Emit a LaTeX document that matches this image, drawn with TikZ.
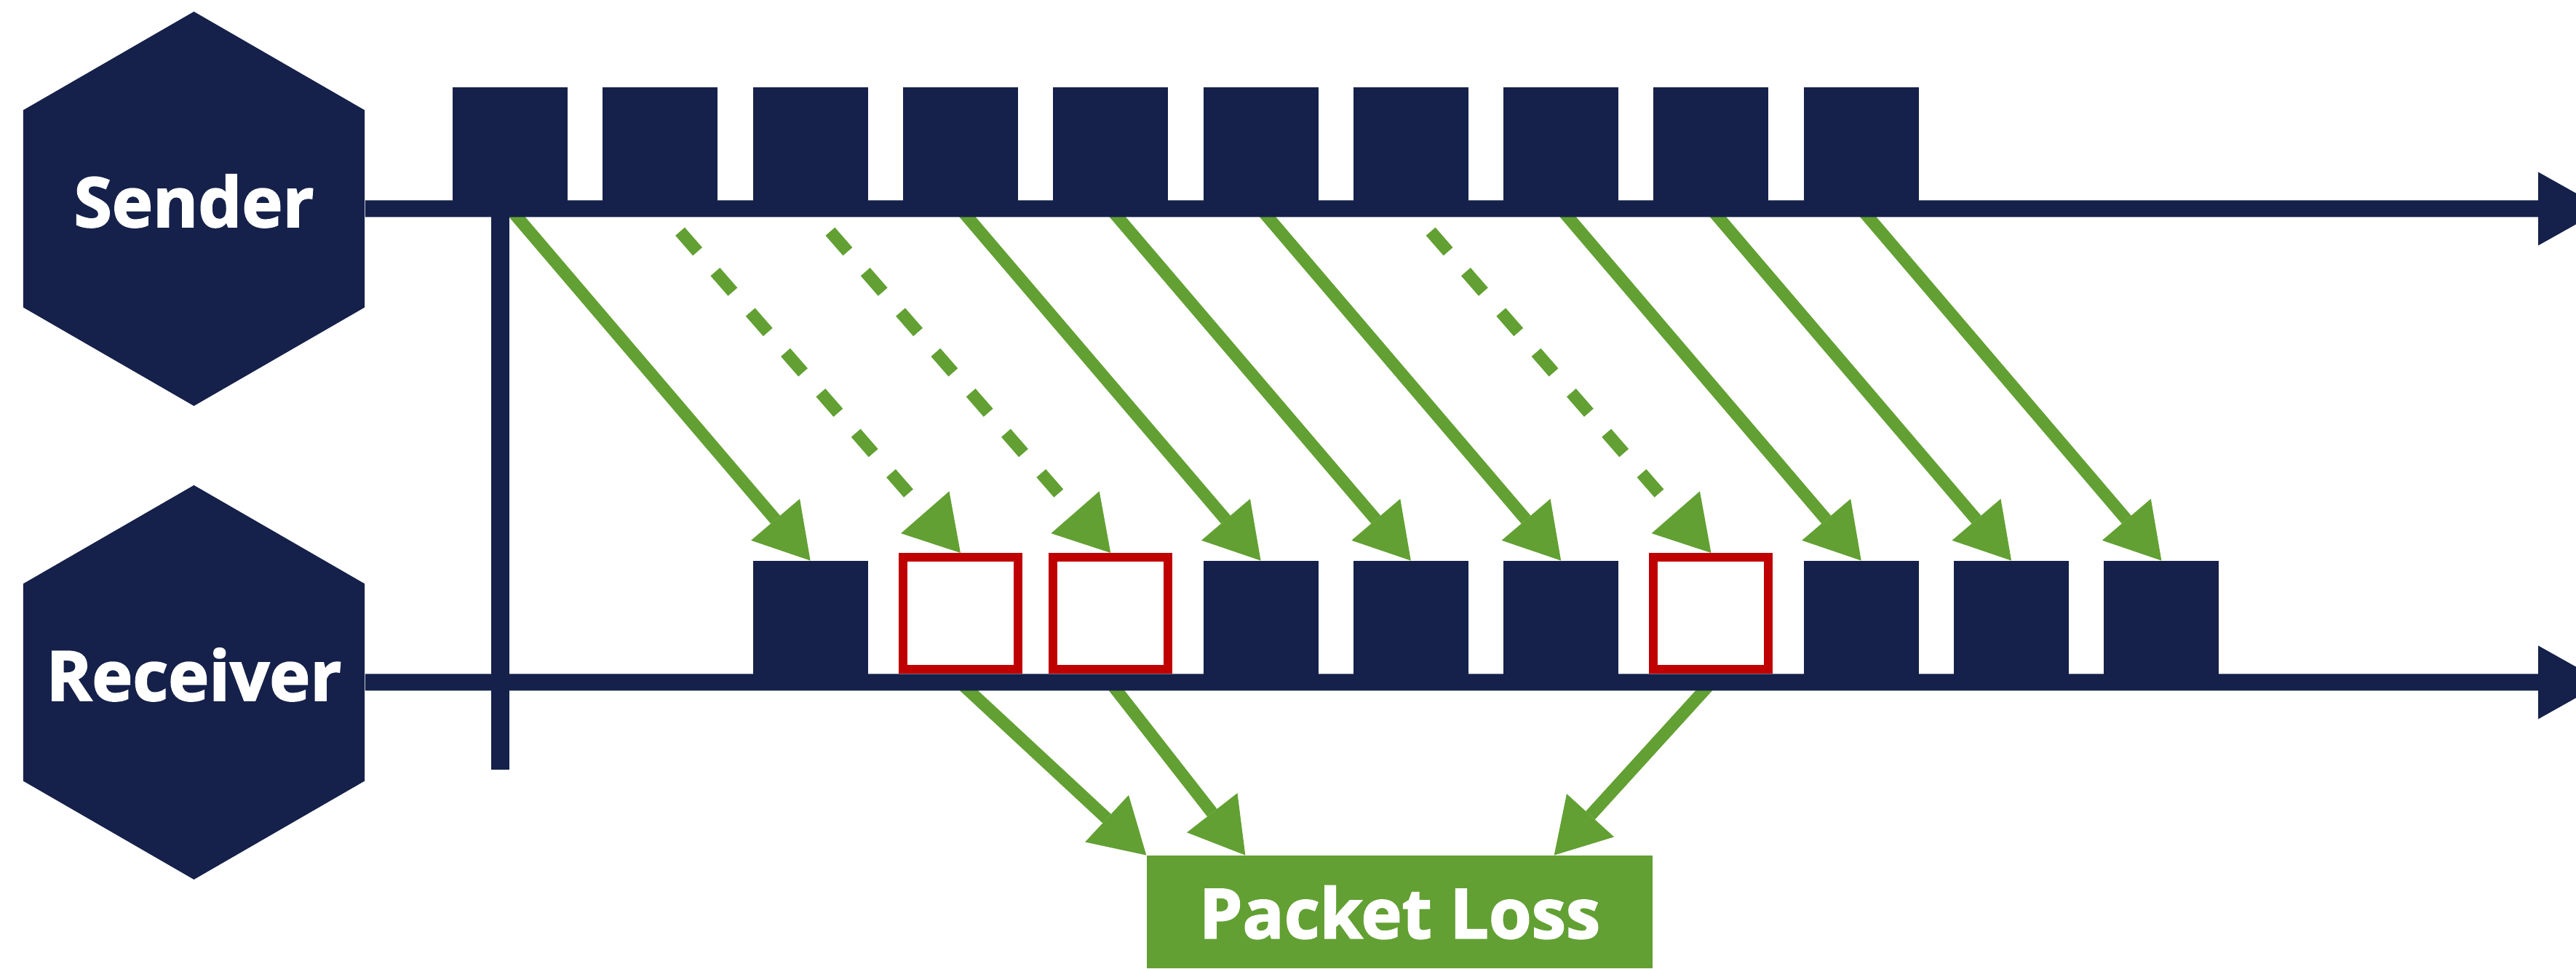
\documentclass[tikz,border=0pt]{standalone}
\usepackage{fontspec}
\setsansfont{Open Sans}[BoldFeatures={FakeBold=2}]
\usetikzlibrary{arrows.meta,shapes.geometric}

\definecolor{navy}{RGB}{21,33,74}
\definecolor{leaf}{RGB}{98,160,51}
\definecolor{lossred}{RGB}{192,0,0}

\begin{document}
\begin{tikzpicture}[x=1cm, y=1cm,
  every node/.style={font=\sffamily\bfseries\fontsize{27}{32}\selectfont, text=white, inner sep=0pt},
  hexa/.style={regular polygon, regular polygon sides=6, shape border rotate=30,
    minimum size=5.42cm, fill=navy, text height=0.7cm, text depth=0.2cm},
  packet/.style={fill=navy, minimum width=1.58cm, minimum height=1.66cm, anchor=south},
  lost/.style={draw=lossred, line width=0.12cm, fill=white,
    minimum width=1.58cm, minimum height=1.545cm, anchor=south},
  timeline/.style={navy, line width=0.23cm, -{Triangle[length=0.9cm, width=1.01cm, line width=0pt]}},
  flow/.style={leaf, line width=0.17cm, -{Triangle[length=0.74cm, width=0.88cm, line width=0pt]}},
  lostflow/.style={dash pattern=on 0.365cm off 0.37cm, dash phase=0.32cm}]

\useasboundingbox (0,0) rectangle (35.40,13.32);

% Hosts (zero-width text so the label does not grow the hexagon)
\node[hexa] (send) at (2.665, 10.45) {\makebox[0pt]{Sender}};
\node[hexa] (recv) at (2.665, 3.94) {\makebox[0pt]{Receiver}};

% Sent packets
\foreach \i in {0,...,9}
  \node[packet] (s\i) at ({7.01+2.063*\i}, 10.45) {};

% Received packets (1, 2 and 6 never arrive)
\foreach \i in {0,3,4,5,7,8,9}
  \node[packet] (r\i) at ({11.136+2.063*\i}, 3.94) {};
\foreach \i in {1,2,6}
  \node[lost] (r\i) at ({11.136+2.063*\i}, 4.055) {};

\node[fill=leaf, minimum width=6.95cm, minimum height=1.55cm, anchor=south,
  text height=0.9cm, text depth=0.18cm] (loss) at (19.235, 0) {Packet Loss};

% in flight
\foreach \i in {0,3,4,5,7,8,9}
  \draw[flow] (s\i.south) -- (r\i.north);
\foreach \i in {1,2,6}
  \draw[flow, lostflow] (s\i.south) -- (r\i.north);

% gaps go to the loss box
\draw[flow] ([yshift=-0.12cm]r1.south) -- (loss.north west);
\draw[flow] ([yshift=-0.12cm]r2.south) -- ([xshift=1.36cm]loss.north west);
\draw[flow] ([yshift=-0.12cm]r6.south) -- ([xshift=-1.36cm]loss.north east);

% time lines
\coordinate (send end) at (35.78, 10.45);
\coordinate (recv end) at (35.78, 3.94);
\coordinate (mark top) at (6.875, 10.45);
\coordinate (mark bot) at (6.875, 2.74);
\draw[timeline] (send.east) -- (send end);
\draw[timeline] (recv.east) -- (recv end);
\draw[navy, line width=0.25cm] (mark top) -- (mark bot);

\end{tikzpicture}
\end{document}
